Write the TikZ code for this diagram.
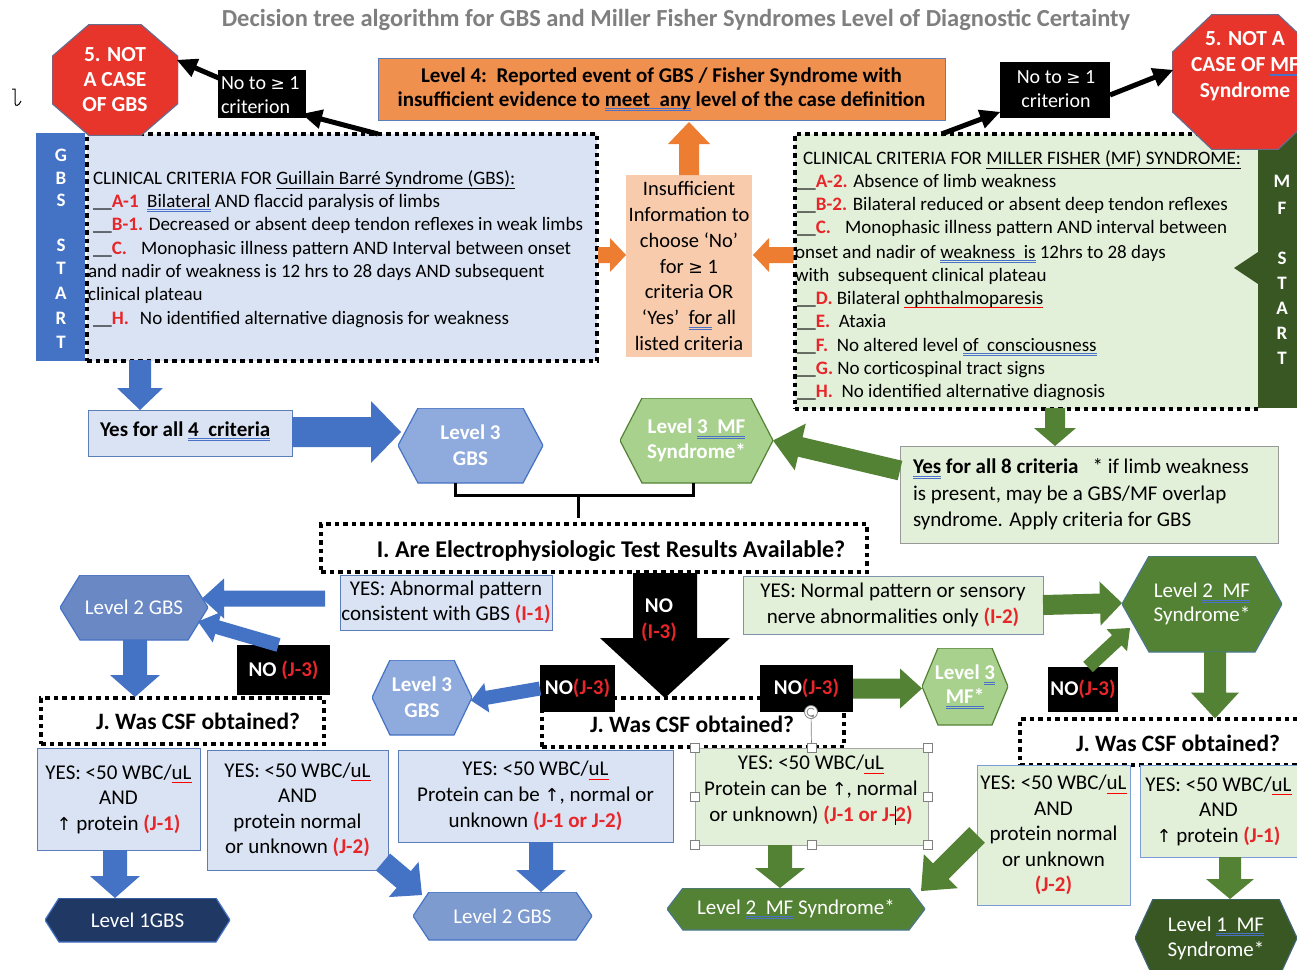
\documentclass[tikz,border=0pt]{standalone}
\usepackage{fontspec}
\setmainfont{Carlito}
\newfontfamily\dejavu[Scale=0.85]{DejaVu Sans}
\usetikzlibrary{calc}
\definecolor{tgray}{HTML}{7F7F7F}
\definecolor{bl}{HTML}{4472C4}
\definecolor{blb}{HTML}{5B7DB8}
\definecolor{lbl}{HTML}{DAE3F3}
\definecolor{hbt}{HTML}{8FAADC}
\definecolor{hbm}{HTML}{6A88C4}
\definecolor{hbn}{HTML}{7E9BD0}
\definecolor{hbd}{HTML}{203864}
\definecolor{gr}{HTML}{548235}
\definecolor{lgr}{HTML}{E2EFD9}
\definecolor{hgl}{HTML}{A9D18E}
\definecolor{dgr}{HTML}{385723}
\definecolor{org}{HTML}{ED7D31}
\definecolor{lvf}{HTML}{F0904F}
\definecolor{peach}{HTML}{F8CBAD}
\definecolor{stopred}{HTML}{E8352B}
\definecolor{octb}{HTML}{6A6A8A}
\definecolor{rtx}{HTML}{E8262A}
\definecolor{ulb}{HTML}{4A72C8}
\definecolor{gbord}{HTML}{7F93AE}
\newsavebox\ulbox
\newcommand\gbul[1]{\sbox\ulbox{#1}\rlap{\textcolor{ulb}{\rule[-2.8pt]{\wd\ulbox}{0.6pt}}}\rlap{\textcolor{ulb}{\rule[-4.6pt]{\wd\ulbox}{0.6pt}}}\usebox\ulbox}
\newcommand\rsq[1]{\sbox\ulbox{#1}\rlap{\textcolor{red}{\rule[-3.8pt]{\wd\ulbox}{0.9pt}}}\usebox\ulbox}
\newcommand\rt[1]{\textcolor{rtx}{\bfseries #1}}
\newcommand\rd[1]{\textcolor{rtx}{\bfseries #1}}
\newcommand\uparr{{\dejavu ↑}}
\newcommand\gequ{{\dejavu ≥}}
\newcommand\fatarrow[6]{%
  \path[fill=#1] let \p1=#2, \p2=#3, \n1={atan2(\y2-\y1,\x2-\x1)}, \n2={veclen(\x2-\x1,\y2-\y1)} in
   [shift={(\p1)}, rotate=\n1, x=1pt, y=1pt]
   (0,{#4/2}) -- ({\n2-#6},{#4/2}) -- ({\n2-#6},{#5/2}) -- (\n2,0) -- ({\n2-#6},{-#5/2}) -- ({\n2-#6},{-#4/2}) -- (0,{-#4/2}) -- cycle;}
\tikzset{
  dotbox/.style={draw=black, line width=4pt, dash pattern=on 4.5pt off 4pt},
  bbox/.style={draw=blb, line width=1pt, fill=lbl},
  gbox/.style={draw=gbord, line width=1pt, fill=lgr},
  blk/.style={fill=black},
  crit/.style={font=\fontsize{19}{23}\selectfont, anchor=base west},
  body/.style={font=\fontsize{21}{25.5}\selectfont},
  bodyb/.style={font=\fontsize{21}{25.5}\selectfont\bfseries},
  jq/.style={font=\fontsize{23.5}{28}\selectfont\bfseries},
  hex/.style n args={3}{path picture={\filldraw[fill=#1,draw=#2,line width=1.2pt]
     (path picture bounding box.west) -- ([xshift=#3]path picture bounding box.north west)
     -- ([xshift=-#3]path picture bounding box.north east) -- (path picture bounding box.east)
     -- ([xshift=-#3]path picture bounding box.south east) -- ([xshift=#3]path picture bounding box.south west) -- cycle;}},
  oct/.style n args={2}{path picture={\filldraw[fill=stopred,draw=octb,line width=1.2pt]
     ([xshift=#1]path picture bounding box.north west) -- ([xshift=-#1]path picture bounding box.north east)
     -- ([yshift=-#2]path picture bounding box.north east) -- ([yshift=#2]path picture bounding box.south east)
     -- ([xshift=-#1]path picture bounding box.south east) -- ([xshift=#1]path picture bounding box.south west)
     -- ([yshift=#2]path picture bounding box.south west) -- ([yshift=-#2]path picture bounding box.north west) -- cycle;}},
  handle/.style={draw=gray, fill=white, line width=0.6pt, minimum size=9pt}
}
\begin{document}
\begin{tikzpicture}[x=1pt,y=-1pt, every node/.style={inner sep=0pt,outer sep=0pt}]
\useasboundingbox (0,0) rectangle (1297,969);
\clip (0,0) rectangle (1297,969);
\fill[white] (0,0) rectangle (1297,969);

% title and stray mark
\node[font={\fontsize{24.5}{28}\selectfont\bfseries}, text=tgray] (title) at (676,20) {Decision tree algorithm for GBS and Miller Fisher Syndromes Level of Diagnostic Certainty};
\draw[line width=1pt] (12,89) -- (15,89) -- (15,103) .. controls (15,107) and (19,106) .. (21,101);

% ---------------- GBS criteria
\node[fill=bl, minimum width=49, minimum height=228] (gbsbar) at (60.5,247) {};
\foreach \l/\y [count=\i] in {G/155,B/178,S/200,S/245,T/268,A/293,R/318,T/342}
  \node[text=white, font={\fontsize{19}{22}\selectfont\bfseries}] (gl\i) at (61,\y) {\l};
\node[dotbox, fill=lbl, minimum width=510, minimum height=227] (gbsbox) at (342,247.5) {};
\node[crit] (g0) at (93,184) {CLINICAL CRITERIA FOR \underline{Guillain Barré Syndrome (GBS):}};
\node[crit] (g1) at (93,207) {\_\_\rd{A-1}\ \ \gbul{Bilateral} AND flaccid paralysis of limbs};
\node[crit] (g2) at (93,230) {\_\_\rd{B-1.} Decreased or absent deep tendon reflexes in weak limbs};
\node[crit] (g3) at (93,254) {\_\_\rd{C.}\hspace{14pt}Monophasic illness pattern AND Interval between onset};
\node[crit] (g4) at (88,277) {and nadir of weakness is 12 hrs to 28 days AND subsequent};
\node[crit] (g5) at (88,300) {clinical plateau};
\node[crit] (g6) at (93,324) {\_\_\rd{H.}\hspace{11pt}No identified alternative diagnosis for weakness};

% ---------------- MF criteria
\node[dotbox, fill=lgr, minimum width=465, minimum height=275] (mfbox) at (1027,271.5) {};
\node[fill=dgr, minimum width=44, minimum height=278] (mfbar) at (1280,269) {};
\foreach \l/\y [count=\i] in {M/181,F/208,S/258,T/283,A/308,R/333,T/358}
  \node[text=white, font={\fontsize{19}{22}\selectfont\bfseries}] (ml\i) at (1282,\y) {\l};
\fatarrow{dgr}{($(mfbar.west)+(1,-1)$)}{($(mfbar.west)+(-24,-1)$)}{0}{32}{24}
\node[crit] (m0) at (803,164) {CLINICAL CRITERIA FOR \underline{MILLER FISHER (MF) SYNDROME:}};
\node[crit] (m1) at (797,187) {\_\_\rd{A-2.} Absence of limb weakness};
\node[crit] (m2) at (797,210) {\_\_\rd{B-2.} Bilateral reduced or absent deep tendon reflexes};
\node[crit] (m3) at (797,233) {\_\_\rd{C.}\hspace{14pt}Monophasic illness pattern AND interval between};
\node[crit] (m4) at (795,258) {onset and nadir of \gbul{weakness\ \ is} 12hrs to 28 days};
\node[crit] (m5) at (795,281) {with\ \ subsequent clinical plateau};
\node[crit] (m6) at (797,304) {\_\_\rd{D.} Bilateral \rsq{ophthalmoparesis}};
\node[crit] (m7) at (797,327) {\_\_\rd{E.}\ \ Ataxia};
\node[crit] (m8) at (797,351) {\_\_\rd{F.}\ \ No altered level \gbul{of\ \ consciousness}};
\node[crit] (m9) at (797,374) {\_\_\rd{G.} No corticospinal tract signs};
\node[crit] (m10) at (797,397) {\_\_\rd{H.}\ \ No identified alternative diagnosis};

% ---------------- top row
\node[fill=peach, minimum width=126, minimum height=182, align=center, font={\fontsize{20.5}{25.8}\selectfont}] (ins) at (689,266)
  {Insufficient\\Information to\\choose ‘No’\\for \gequ\ 1\\criteria OR\\‘Yes’\ \ \gbul{for} all\\listed criteria};
\node[fill=lvf, draw=blb, line width=1pt, minimum width=567, minimum height=62, align=center, font={\fontsize{21}{24}\selectfont\bfseries}] (l4) at (661.5,89)
  {Level 4:\ \ Reported event of GBS / Fisher Syndrome with\\insufficient evidence to \gbul{meet\ \ any} level of the case definition};
\node[oct={37pt}{32pt}, minimum width=126, minimum height=111, text=white, align=center, font={\fontsize{21.5}{25}\selectfont\bfseries}] (oct1) at (115,80) {5. NOT\\A CASE\\OF GBS};
\node[blk, minimum width=88, minimum height=48] (lab1) at (262,94) {};
\node[text=white, anchor=west, align=left, font={\fontsize{20}{24}\selectfont}] (lab1t) at (221,95) {No to \gequ\ 1\\criterion};
\node[blk, minimum width=110, minimum height=56] (lab2) at (1055,90) {};
\node[text=white, align=center, font={\fontsize{20}{24}\selectfont}] (lab2t) at (1056,89) {No to \gequ\ 1\\criterion};
\node[oct={40pt}{38pt}, minimum width=146, minimum height=135] (oct2) at (1245,82) {};
\node[text=white, align=center, font={\fontsize{21.5}{26}\selectfont\bfseries}] (oct2t) at (1245,66) {5. NOT A\\CASE OF\ \gbul{MF}\\Syndrome};

\fatarrow{black}{($(gbsbox.north)+(36,0)$)}{($(lab1.south east)+(-4,-4)$)}{5}{20}{20}
\fatarrow{black}{($(lab1.west)+(3,-15)$)}{($(oct1.east)+(-1,-20)$)}{5}{20}{20}
\fatarrow{black}{($(mfbox.north west)+(147,0)$)}{($(lab2.south west)+(0,-6)$)}{5}{20}{20}
\fatarrow{black}{($(lab2.east)+(0,5)$)}{($(oct2.west)+(1,-12)$)}{5}{20}{20}
\fatarrow{org}{($(gbsbox.east)+(1,7.5)$)}{($(ins.west)+(0,-11)$)}{16}{34}{16}
\fatarrow{org}{($(mfbox.west)+(-1,-16.5)$)}{($(ins.east)+(1,-11)$)}{16}{34}{16}
\fatarrow{org}{(ins.north)}{($(l4.south)+(27.5,2)$)}{20}{42}{22}

% ---------------- level 3 row
\node[bbox, minimum width=204, minimum height=46] (yes4) at (190,433) {};
\node[anchor=west, bodyb] (yes4t) at (100,431) {Yes for all \gbul{4\ \ criteria}};
\node[hex={hbt}{bl}{20pt}, minimum width=145, minimum height=75, text=white, align=center, font={\fontsize{21}{26}\selectfont\bfseries}] (l3gbs) at (470.5,445.5) {Level 3\\GBS};
\node[hex={hgl}{gr}{22pt}, minimum width=153, minimum height=85, text=white, align=center, font={\fontsize{21}{25}\selectfont\bfseries}] (l3mf) at (696.5,440.5) {Level \gbul{3\ \ MF}\\Syndrome*};
\node[gbox, draw=gray!80, minimum width=378, minimum height=97] (yes8) at (1089,494.5) {};
\node[anchor=west, align=left, font={\fontsize{21}{26.5}\selectfont}] (yes8t) at (913,494.5)
  {\textbf{\gbul{Yes} for all 8 criteria}\hspace{14pt}* if limb weakness\\is present, may be a GBS/MF overlap\\syndrome. Apply criteria for GBS};
\fatarrow{bl}{($(gbsbox.south)+(-202,-1)$)}{($(yes4.north)+(-50,0)$)}{22}{46}{22}
\fatarrow{bl}{($(yes4.east)+(0,-1)$)}{($(l3gbs.west)+(3,-13.5)$)}{30}{62}{30}
\fatarrow{gr}{($(mfbox.south)+(28,-1)$)}{($(yes8.north)+(-34,0)$)}{20}{42}{18}
\fatarrow{gr}{($(yes8.west)+(0,-24)$)}{($(l3mf.east)+(0,0)$)}{20}{48}{28}
\coordinate (brk) at (578,495);
\coordinate (brkend) at (578,518);
\draw[line width=3pt] ($(l3gbs.south)+(-15,0)$) |- (brk) -| ($(l3mf.south)+(-3,0)$);
\draw[line width=3pt] (brk) -- (brkend);

% ---------------- I row
\node[dotbox, fill=white, minimum width=546, minimum height=48] (iq) at (594,548) {};
\node[font={\fontsize{24}{28}\selectfont\bfseries}] (iqt) at (611,551) {I. Are Electrophysiologic Test Results Available?};
\node[bbox, minimum width=212, minimum height=55, align=center, body] (yesab) at (446,602.5) {YES: Abnormal pattern\\consistent with GBS \rt{(I-1)}};
\node[gbox, minimum width=300, minimum height=58, align=center, body] (yesnorm) at (893,605) {YES: Normal pattern or sensory\\nerve abnormalities only \rt{(I-2)}};
\node[hex={hbm}{bl}{20pt}, minimum width=148, minimum height=65, text=white, body] (l2gbs) at (134,607.5) {Level 2 GBS};
\node[hex={gr}{bl!60!gr}{27pt}, minimum width=160, minimum height=96, text=white, align=center, font={\fontsize{21}{24}\selectfont}] (l2mf) at (1202,604) {Level \gbul{2\ \ MF}\\Syndrome*};
\node[blk, minimum width=93, minimum height=50, text=white, bodyb] (no1) at (283.5,670) {NO \rt{(J-3)}};
\fatarrow{bl}{($(yesab.west)+(-15,-4)$)}{($(l2gbs.east)+(-6,-9)$)}{16}{40}{22}
\fatarrow{bl}{($(no1.north)+(-5,0)$)}{($(l2gbs.east)+(-10,14)$)}{14}{32}{20}
\fatarrow{gr}{(yesnorm.east)}{($(l2mf.west)+(0,-1)$)}{20}{44}{22}

% ---------------- J row (middle)
\node[dotbox, fill=white, minimum width=302, minimum height=49] (j2) at (693,722.5) {};
\node[jq] (j2t) at (692,724) {J. Was CSF obtained?};
\node[blk, minimum width=75, minimum height=47, text=white, bodyb] (no2) at (577.5,688.5) {NO\rt{(J-3)}};
\node[blk, minimum width=93, minimum height=47, text=white, bodyb] (no3) at (806.5,688.5) {NO\rt{(J-3)}};
\fatarrow{black}{($(iq.south)+(71,1)$)}{($(j2.north)+(-28,0)$)}{64}{130}{60}
\node[text=white, align=center, font={\fontsize{21}{26}\selectfont\bfseries}] (noIt) at (659,620) {NO\\\rt{(I-3)}};
\node[hex={hbt}{bl}{18pt}, minimum width=100, minimum height=75, text=white, align=center, font={\fontsize{21}{26}\selectfont\bfseries}] (l3gbs2) at (422,697.5) {Level 3\\GBS};
\node[hex={hgl}{gr}{16pt}, minimum width=86, minimum height=77, text=white, align=center, font={\fontsize{21}{24}\selectfont\bfseries}] (l3mf2) at (965,686.5) {Level \gbul{3}\\\gbul{MF*}};
\fatarrow{bl}{(no2.west)}{($(l3gbs2.east)+(-1,3)$)}{14}{30}{16}
\fatarrow{gr}{(no3.east)}{($(l3mf2.west)+(0,2)$)}{20}{40}{22}
\node[bbox, minimum width=275, minimum height=92, align=center, font={\fontsize{21}{26}\selectfont}] (ym) at (535.5,796)
  {YES: <50 WBC/\rsq{uL}\\Protein can be \uparr, normal or\\unknown \rt{(J-1 or J-2)}};
\node[gbox, draw=gray!70, minimum width=233, minimum height=97] (yg) at (811.5,796.5) {};
\node[align=center, font={\fontsize{21}{26}\selectfont}] (ygt) at (811,790)
  {YES: <50 WBC/\rsq{uL}\\Protein can be \uparr, normal\\or unknown) \rt{(J-1 or J-\rlap{\textcolor{black}{\rule[-3pt]{0.9pt}{19pt}}}2)}};
\node[handle] (hnw) at (yg.north west) {};
\node[handle] (hn) at (yg.north) {};
\node[handle] (hne) at (yg.north east) {};
\node[handle] (hw) at (yg.west) {};
\node[handle] (he) at (yg.east) {};
\node[handle] (hsw) at (yg.south west) {};
\node[handle] (hs) at (yg.south) {};
\node[handle] (hse) at (yg.south east) {};
\node[circle, draw=gray, fill=white, line width=0.8pt, minimum size=13pt] (rot) at (811,712) {};
\draw[gray, line width=0.7pt] (rot) -- (hn);
\draw[gray, line width=0.8pt, ->, >=stealth] ([shift={(40:4pt)}]rot.center) arc[start angle=40, end angle=320, radius=4pt];
\node[hex={hbn}{bl}{16pt}, minimum width=179, minimum height=48, text=white, body] (l2gbsb) at (502.5,916) {Level 2 GBS};
\node[hex={gr}{bl!60!gr}{16pt}, minimum width=258, minimum height=42, text=white, body] (l2mfs) at (796,909) {Level \gbul{2\ \ MF} Syndrome*};
\fatarrow{bl}{($(ym.south)+(5.5,0)$)}{($(l2gbsb.north)+(38.5,0)$)}{24}{50}{22}
\fatarrow{gr}{($(yg.south)+(-31.5,0)$)}{($(l2mfs.north)+(-16,0)$)}{24}{50}{20}

% ---------------- J row (left)
\node[dotbox, fill=white, minimum width=283, minimum height=46] (j1) at (182.5,721) {};
\node[jq] (j1t) at (198,721) {J. Was CSF obtained?};
\fatarrow{bl}{($(l2gbs.south)+(1,0)$)}{($(j1.north)+(-47.5,-1)$)}{24}{50}{22}
\node[bbox, minimum width=163, minimum height=102, align=center, body] (y11) at (118.5,799) {YES: <50 WBC/\rsq{uL}\\AND\\\uparr\ protein \rt{(J-1)}};
\node[bbox, minimum width=181, minimum height=120, align=center, body] (y12) at (297.5,810) {YES: <50 WBC/\rsq{uL}\\AND\\protein normal\\or unknown \rt{(J-2)}};
\node[hex={hbd}{bl}{14pt}, minimum width=185, minimum height=44, text=white, body] (l1gbs) at (137.5,920) {Level 1GBS};
\fatarrow{bl}{($(y11.south)+(-3.5,0)$)}{($(l1gbs.north)+(-22.5,0)$)}{24}{50}{22}
\fatarrow{bl}{($(y12.south east)+(-5,-8)$)}{($(l2gbsb.north west)+(9,3)$)}{22}{46}{24}

% ---------------- J row (right)
\node[blk, minimum width=70, minimum height=45, text=white, bodyb] (no4) at (1083,689.5) {NO\rt{(J-3)}};
\fatarrow{gr}{($(no4.north)+(5,0)$)}{($(l2mf.west)+(8,24)$)}{14}{30}{18}
\node[dotbox, fill=white, minimum width=290, minimum height=46] (j3) at (1165,741.5) {};
\node[jq] (j3t) at (1178,743) {J. Was CSF obtained?};
\fatarrow{gr}{($(l2mf.south)+(13,0)$)}{($(j3.north)+(50,0)$)}{22}{48}{26}
\node[gbox, draw=bl!70, minimum width=153, minimum height=140, align=center, body] (yj2) at (1053.5,835) {YES: <50 WBC/\rsq{uL}\\AND\\protein normal\\or unknown\\\rt{(J-2)}};
\node[gbox, draw=bl!70, minimum width=157, minimum height=92, align=center, body] (yj1) at (1218.5,811) {YES: <50 WBC/\rsq{uL}\\AND\\\uparr\ protein \rt{(J-1)}};
\node[hex={dgr}{bl!50!dgr}{18pt}, minimum width=162, minimum height=78, text=white, align=center, font={\fontsize{21}{25}\selectfont}] (l1mf) at (1216,938) {Level \gbul{1\ \ MF}\\Syndrome*};
\fatarrow{gr}{(yj2.west)}{($(l2mfs.north east)+(-4,3)$)}{22}{48}{28}
\fatarrow{gr}{($(yj1.south)+(11.5,0)$)}{($(l1mf.north)+(14,0)$)}{22}{48}{20}
\end{tikzpicture}
\end{document}
